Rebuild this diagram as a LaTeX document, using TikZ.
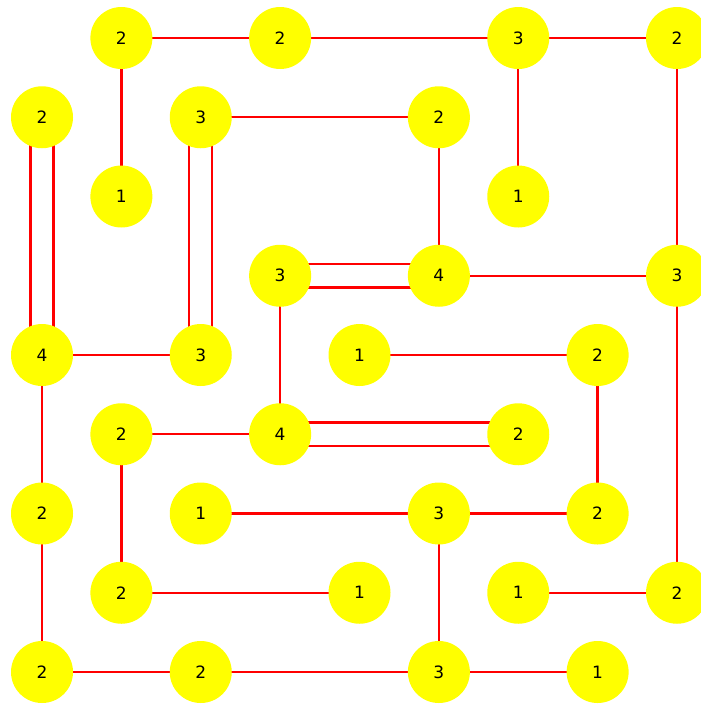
\documentclass[tikz,border=0pt]{standalone}
\usepackage{fontspec}
\setmainfont{DejaVu Sans}
\usetikzlibrary{backgrounds}
\definecolor{isleyellow}{RGB}{255,255,0}
\definecolor{bridgered}{RGB}{255,0,0}
\begin{document}
\begin{tikzpicture}[x=1pt,y=-1pt,
  isle/.style={circle,fill=isleyellow,draw=none,minimum size=62pt,inner sep=0pt,font=\fontsize{17}{17}\selectfont},
  bridge/.style={draw=bridgered,line width=2.4pt}]
\useasboundingbox (0,0) rectangle (701,705);
\def\gx#1{42+79.375*#1}
\def\gy#1{38+79.25*#1}
\foreach \c/\r/\v/\n in {1/0/2/a,3/0/2/b,6/0/3/c,8/0/2/d,
  0/1/2/e,2/1/3/f,5/1/2/g,
  1/2/1/h,6/2/1/i,
  3/3/3/j,5/3/4/k,8/3/3/l,
  0/4/4/m,2/4/3/n,4/4/1/o,7/4/2/p,
  1/5/2/q,3/5/4/r,6/5/2/s,
  0/6/2/t,2/6/1/u,5/6/3/v,7/6/2/w,
  1/7/2/x,4/7/1/y,6/7/1/z,8/7/2/aa,
  0/8/2/bb,2/8/2/cc,5/8/3/dd,7/8/1/ee}
  \node[isle] (\n) at ({\gx{\c}},{\gy{\r}}) {\v};
\begin{pgfonlayer}{background}
\foreach \p/\q in {a/b,b/c,c/d,a/h,c/i,d/l,f/g,g/k,k/l,j/r,m/n,o/p,l/aa,m/t,q/r,p/w,q/x,u/v,v/w,t/bb,x/y,v/dd,z/aa,bb/cc,cc/dd,dd/ee}
  \draw[bridge] (\p.center) -- (\q.center);
% double vertical bridges
\foreach \p/\q in {e/m,f/n}{
  \draw[bridge] ([xshift=-11.5pt]\p.center) -- ([xshift=-11.5pt]\q.center);
  \draw[bridge] ([xshift=11.5pt]\p.center) -- ([xshift=11.5pt]\q.center);
}
% double horizontal bridges
\foreach \p/\q in {j/k,r/s}{
  \draw[bridge] ([yshift=-11.75pt]\p.center) -- ([yshift=-11.75pt]\q.center);
  \draw[bridge] ([yshift=11.75pt]\p.center) -- ([yshift=11.75pt]\q.center);
}
\end{pgfonlayer}
\end{tikzpicture}
\end{document}
